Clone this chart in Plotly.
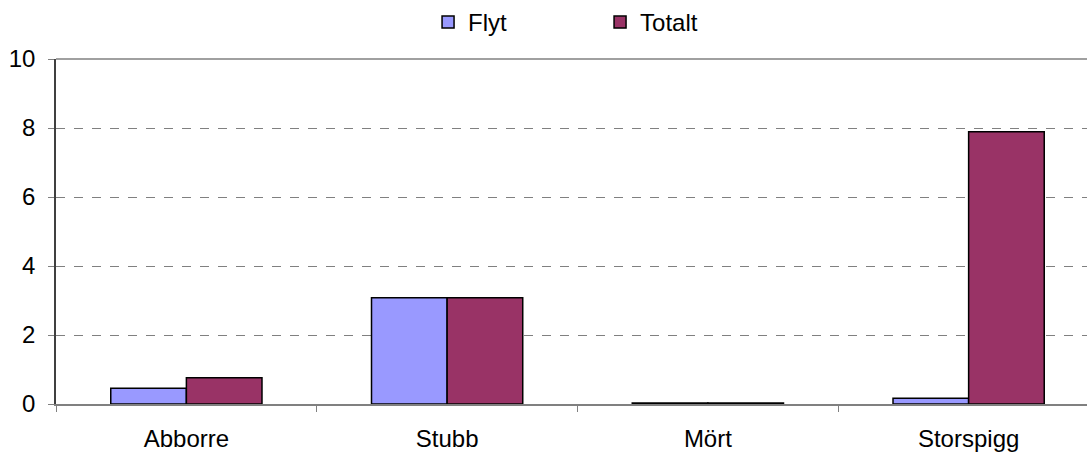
import plotly.graph_objects as go

categories = ["Abborre", "Stubb", "Mört", "Storspigg"]
flyt = [0.46, 3.08, 0.03, 0.17]
totalt = [0.76, 3.08, 0.03, 7.89]
y_ticks = [0, 2, 4, 6, 8, 10]

fig = go.Figure()
fig.add_trace(go.Bar(name="Flyt", x=categories, y=flyt,
                     marker=dict(color="#9999FF", line=dict(color="black", width=1.5))))
fig.add_trace(go.Bar(name="Totalt", x=categories, y=totalt,
                     marker=dict(color="#993366", line=dict(color="black", width=1.5))))

fig.update_layout(
    width=1099, height=454,
    margin=dict(l=56, r=0, t=59, b=50),
    paper_bgcolor="white", plot_bgcolor="white",
    barmode="group", bargap=0.42, bargroupgap=0,
    font=dict(family="Liberation Sans, Arial, sans-serif", size=24, color="black"),
    showlegend=True,
    legend=dict(orientation="h", x=0.546, xanchor="center", xref="container",
                y=1.0, yanchor="top", yref="container",
                font=dict(size=24), itemwidth=30, entrywidth=127,
                traceorder="normal"),
    xaxis=dict(showline=True, linecolor="#808080", linewidth=1.5,
               ticks="outside", tickson="boundaries", ticklen=6, tickcolor="#808080",
               showgrid=False, ticklabelstandoff=12),
    yaxis=dict(range=[0, 10], tickvals=y_ticks, showline=True, linecolor="#404040",
               linewidth=1.5, ticks="outside", ticklen=6, tickcolor="#808080",
               showgrid=True, gridcolor="#808080", griddash="dash", gridwidth=1,
               zeroline=False, ticklabelstandoff=8),
)
fig.add_shape(type="line", xref="paper", yref="paper", x0=0, x1=1, y0=1, y1=1,
              line=dict(color="#808080", width=1.5))

fig.write_html("out.html", config={"displayModeBar": False},
               post_script="document.body.style.margin='0';document.body.style.overflow='hidden';")
